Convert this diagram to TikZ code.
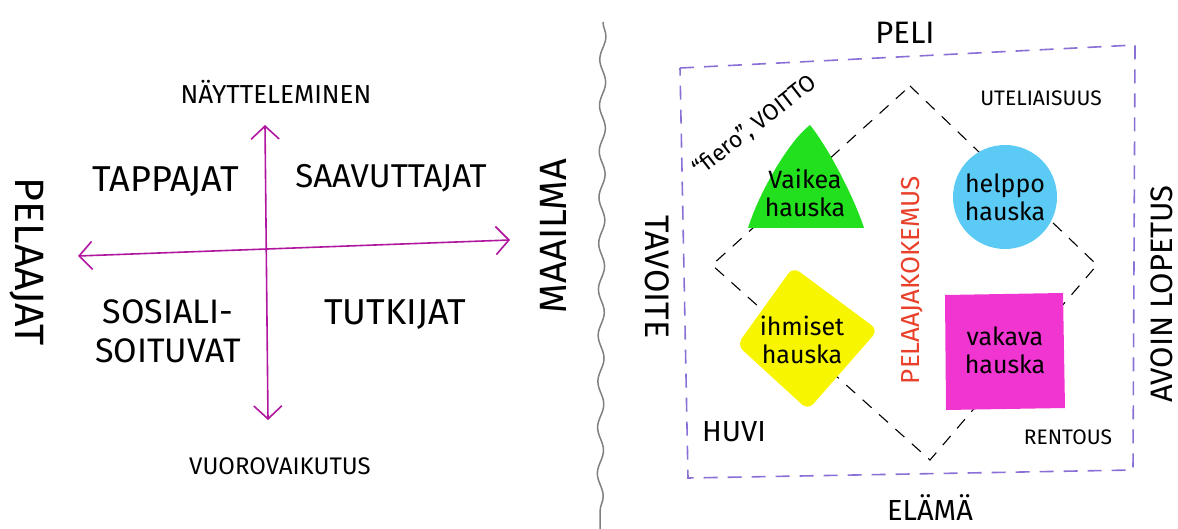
\documentclass[tikz,border=0pt]{standalone}
\usepackage{fontspec}
\setmainfont{Fira Sans}
\usetikzlibrary{arrows.meta,decorations.pathmorphing}

\definecolor{axiscol}{HTML}{B0169E}
\definecolor{framecol}{HTML}{8A6FD6}
\definecolor{greenfun}{HTML}{22E01E}
\definecolor{bluefun}{HTML}{5BCBF5}
\definecolor{yellowfun}{HTML}{F8F500}
\definecolor{pinkfun}{HTML}{F035D0}
\definecolor{redtext}{HTML}{E8402A}

\tikzset{
  word/.style={inner sep=0pt, font=\fontsize{#1}{#1}\selectfont},
  word/.default=30,
  funtext/.style={inner sep=0pt, align=center, font=\fontsize{25}{28}\selectfont},
  axisline/.style={draw=axiscol, line width=1.6pt,
    {Straight Barb[length=13pt,width=28pt]}-{Straight Barb[length=13pt,width=28pt]}},
}

\begin{document}
\begin{tikzpicture}[x=1pt, y=-1pt]
  \useasboundingbox (0,0) rectangle (1178,529);

  % left: player types
  \coordinate (axtop) at (265,125);
  \coordinate (axbot) at (268,420);
  \coordinate (axleft) at (78,256);
  \coordinate (axright) at (510,240);
  \draw[axisline] (axtop) -- (axbot);
  \draw[axisline] (axleft) -- (axright);

  \node[word=26] (naytteleminen) at (276,92) {NÄYTTELEMINEN};
  \node[word=24] (vuorovaikutus) at (280,466) {VUOROVAIKUTUS};
  \node[word=36] (tappajat) at (166,182) {TAPPAJAT};
  \node[word=33] (saavuttajat) at (391,178) {SAAVUTTAJAT};
  \node[word=34, align=center] (sosiali) at (168,331) {SOSIALI-\\[5pt]SOITUVAT};
  \node[word=36] (tutkijat) at (395,315) {TUTKIJAT};
  \node[word=41, rotate=-90] (pelaajat) at (27,262) {PELAAJAT};
  \node[word=38, rotate=90] (maailma) at (553,236) {MAAILMA};

  % separator
  \draw[gray, line width=1.5pt, decorate,
    decoration={snake, segment length=46pt, amplitude=3pt}] (603,22) -- (600,529);

  % right: kinds of fun
  \draw[framecol, line width=1.6pt, dash pattern=on 14pt off 10pt]
    (680,68) -- (1135,45) -- (1133,470) -- (688,478) -- cycle;
  \draw[line width=1.1pt, dash pattern=on 12pt off 10pt]
    (910,86) -- (1097,265) -- (930,460) -- (712,265) -- cycle;

  \fill[greenfun] (748,228) .. controls (760,190) and (790,140) .. (810,125)
    .. controls (830,150) and (855,200) .. (864,228) -- cycle;
  \fill[bluefun] (1005,197) circle (52);
  \fill[yellowfun, rounded corners=8pt]
    (793,267) -- (878,330) -- (808,410) -- (737,345) -- cycle;
  \fill[pinkfun] (945,295) -- (1063,293) -- (1065,408) -- (946,410) -- cycle;

  \node[funtext] (vaikea) at (805,193) {Vaikea\\hauska};
  \node[funtext] (helppo) at (1005,197) {helppo\\hauska};
  \node[funtext] (ihmiset) at (802,340) {ihmiset\\hauska};
  \node[funtext] (vakava) at (1005,350) {vakava\\hauska};

  \node[word=26, redtext, rotate=90] (kokemus) at (912,280) {PELAAJAKOKEMUS};
  \node[word=31] (peli) at (905,33) {PELI};
  \node[word=29] (elama) at (930,508) {ELÄMÄ};
  \node[word=34, rotate=-90] (tavoite) at (657,277) {TAVOITE};
  \node[word=31, rotate=90] (lopetus) at (1162,294) {AVOIN LOPETUS};
  \node[word=21] (uteliaisuus) at (1041,98) {UTELIAISUUS};
  \node[word=29] (huvi) at (734,432) {HUVI};
  \node[word=21] (rentous) at (1068,437) {RENTOUS};
  \node[word=23, rotate=38] (fiero) at (755,126) {“fiero”, VOITTO};
\end{tikzpicture}
\end{document}
